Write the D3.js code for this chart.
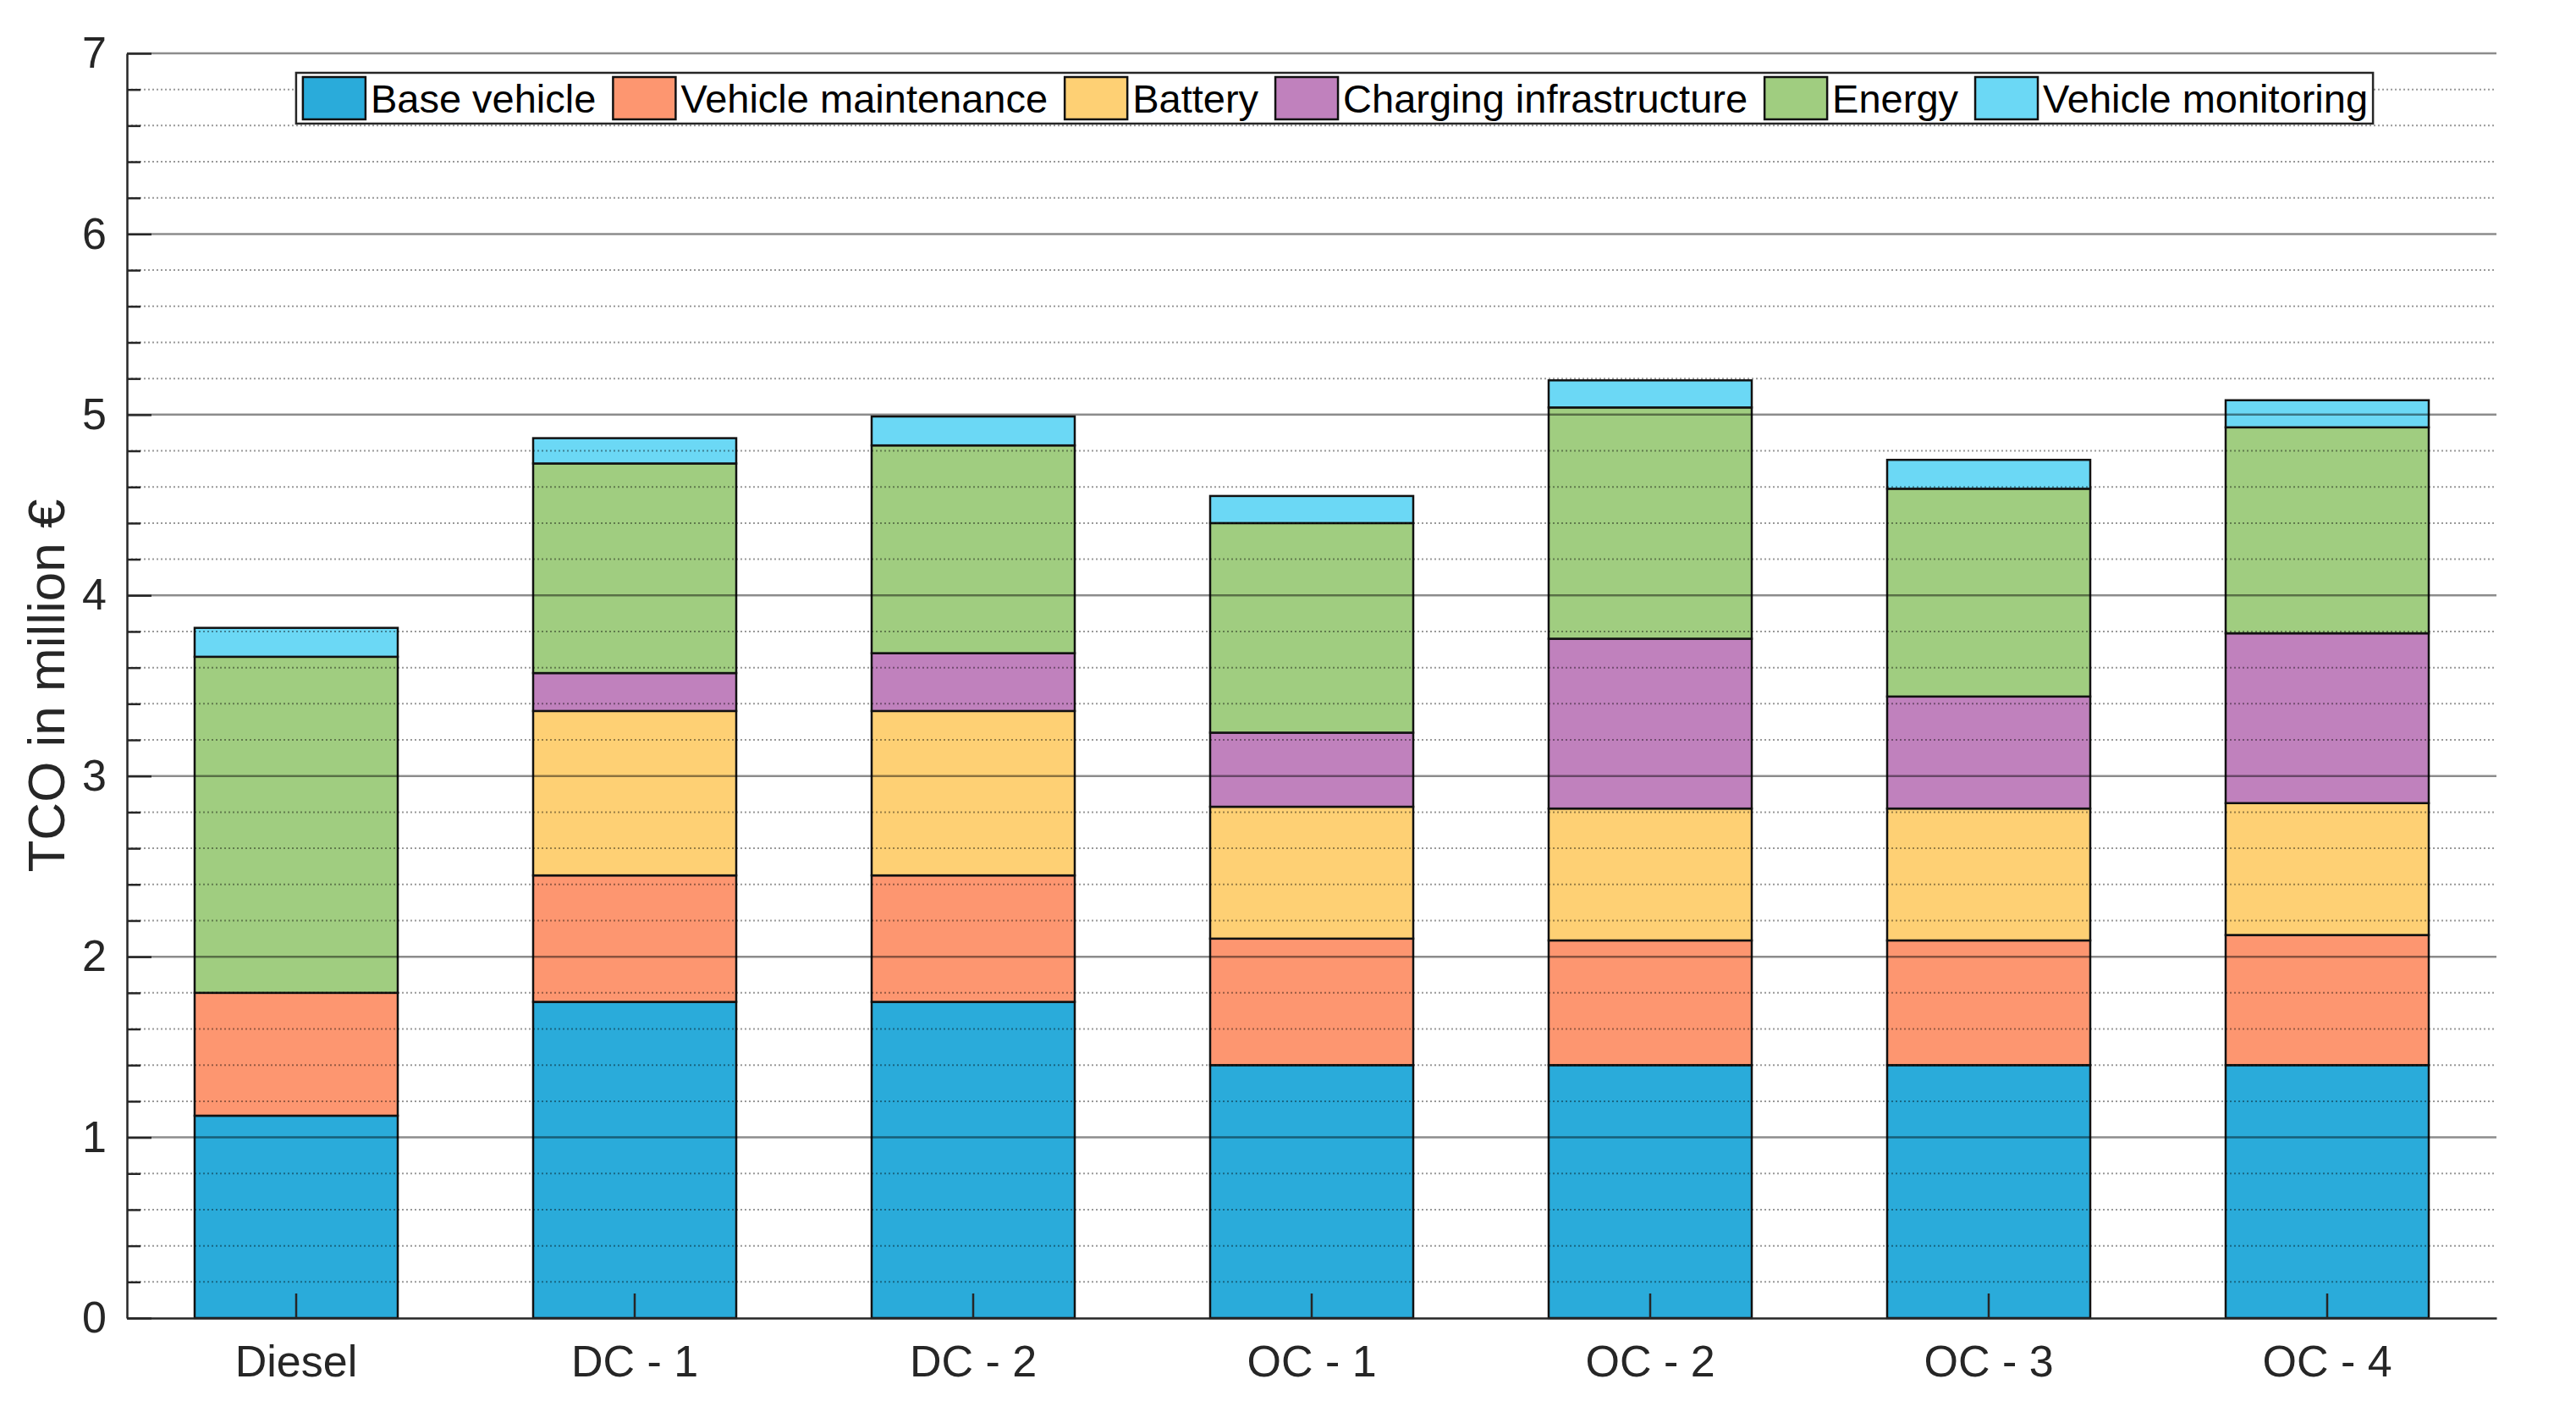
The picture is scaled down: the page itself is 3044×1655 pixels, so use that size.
<!DOCTYPE html>
<html>
<head>
<meta charset="utf-8">
<script src="https://cdn.jsdelivr.net/npm/d3@7"></script>
<style>
  body { margin: 0; background: #fff; }
  svg { font-family: "Liberation Sans", Arial, sans-serif; }
</style>
</head>
<body>
<svg id="chart" width="3044" height="1655"></svg>
<script>
// data (million €)
const categories = ["Diesel", "DC - 1", "DC - 2", "OC - 1", "OC - 2", "OC - 3", "OC - 4"];
const components = ["Base vehicle", "Vehicle maintenance", "Battery", "Charging infrastructure", "Energy", "Vehicle monitoring"];
const baseVehicle = [1.12, 1.75, 1.75, 1.40, 1.40, 1.40, 1.40];
const maintenance = [0.68, 0.70, 0.70, 0.70, 0.69, 0.69, 0.72];
const battery     = [0.00, 0.91, 0.91, 0.73, 0.73, 0.73, 0.73];
const charging    = [0.00, 0.21, 0.32, 0.41, 0.94, 0.62, 0.94];
const energy      = [1.86, 1.16, 1.15, 1.16, 1.28, 1.15, 1.14];
const monitoring  = [0.16, 0.14, 0.16, 0.15, 0.15, 0.16, 0.15];
const yTicks = [0, 1, 2, 3, 4, 5, 6, 7];

const colors = ["#2aabda", "#fd9670", "#fed074", "#c081bd", "#a0cd80", "#6bd8f5"];
const seriesValues = [baseVehicle, maintenance, battery, charging, energy, monitoring];

const table = categories.map((c, i) => {
    const row = { category: c };
    components.forEach((k, j) => row[k] = seriesValues[j][i]);
    return row;
});

const margin = { left: 150, right: 94, top: 63, bottom: 98 };
const width = 3044, height = 1655;
const svg = d3.select("#chart");

const x = d3.scaleBand()
    .domain(categories)
    .range([margin.left, width - margin.right])
    .paddingInner(0.4)
    .paddingOuter(0.2);

const y = d3.scaleLinear()
    .domain([0, 7])
    .range([height - margin.bottom, margin.top]);

const stack = d3.stack().keys(components)(table);

// bars
svg.append("g")
    .selectAll("g")
    .data(stack)
    .join("g")
    .attr("fill", (d, i) => colors[i])
    .selectAll("rect")
    .data(d => d)
    .join("rect")
    .attr("x", d => x(d.data.category))
    .attr("width", x.bandwidth())
    .attr("y", d => y(d[1]))
    .attr("height", d => y(d[0]) - y(d[1]))
    .attr("stroke", "#111")
    .attr("stroke-width", 2.5);

// grid on top of the bars
const minorTicks = d3.range(0, 7.001, 0.2).filter(v => Math.abs(v - Math.round(v)) > 0.01);
const grid = svg.append("g");
grid.selectAll(".minor")
    .data(minorTicks)
    .join("line")
    .attr("x1", margin.left).attr("x2", width - margin.right)
    .attr("y1", d => y(d)).attr("y2", d => y(d))
    .attr("stroke", "#000")
    .attr("stroke-opacity", 0.4)
    .attr("stroke-width", 2)
    .attr("stroke-dasharray", "2,3");
grid.selectAll(".major")
    .data(yTicks.slice(1))
    .join("line")
    .attr("x1", margin.left).attr("x2", width - margin.right)
    .attr("y1", d => y(d)).attr("y2", d => y(d))
    .attr("stroke", "#000")
    .attr("stroke-opacity", 0.45)
    .attr("stroke-width", 2.5);

// axes
const yAxis = svg.append("g")
    .attr("transform", `translate(${margin.left},0)`)
    .call(d3.axisLeft(y).tickValues(yTicks).tickFormat(d3.format("d"))
        .tickSize(-29).tickSizeOuter(0).tickPadding(24));
const yMinor = svg.append("g")
    .attr("transform", `translate(${margin.left},0)`)
    .call(d3.axisLeft(y).tickValues(minorTicks).tickSize(-16).tickFormat(""));
yMinor.select(".domain").remove();

const xAxis = svg.append("g")
    .attr("transform", `translate(0,${height - margin.bottom})`)
    .call(d3.axisBottom(x).tickSize(-29).tickSizeOuter(0).tickPadding(32));

[yAxis, yMinor, xAxis].forEach(a => {
    a.selectAll("path, line").attr("stroke", "#262626").attr("stroke-width", 2.5);
    a.selectAll("text").attr("fill", "#262626").attr("font-size", "52px");
});

svg.append("text")
    .attr("transform", `translate(76,${(margin.top + height - margin.bottom) / 2}) rotate(-90)`)
    .attr("text-anchor", "middle")
    .attr("fill", "#262626")
    .attr("font-size", "62px")
    .text("TCO in million €");

// legend
const legend = svg.append("g");
const box = legend.append("rect")
    .attr("fill", "#fff")
    .attr("stroke", "#262626")
    .attr("stroke-width", 2.5);
const swW = 74, swH = 50, gapText = 6, gapItem = 20, padL = 8, padR = 6, legH = 60;
let cursor = padL;
components.forEach((name, i) => {
    legend.append("rect")
        .attr("x", cursor).attr("y", (legH - swH) / 2)
        .attr("width", swW).attr("height", swH)
        .attr("fill", colors[i])
        .attr("stroke", "#111")
        .attr("stroke-width", 2.5);
    const t = legend.append("text")
        .attr("x", cursor + swW + gapText)
        .attr("y", legH / 2)
        .attr("dy", "0.36em")
        .attr("font-size", "47px")
        .attr("fill", "#000")
        .text(name);
    cursor += swW + gapText + t.node().getComputedTextLength() + gapItem;
});
const legW = cursor - gapItem + padR;
box.attr("width", legW).attr("height", legH);
legend.attr("transform", `translate(${1577 - legW / 2},86)`);
</script>
</body>
</html>
